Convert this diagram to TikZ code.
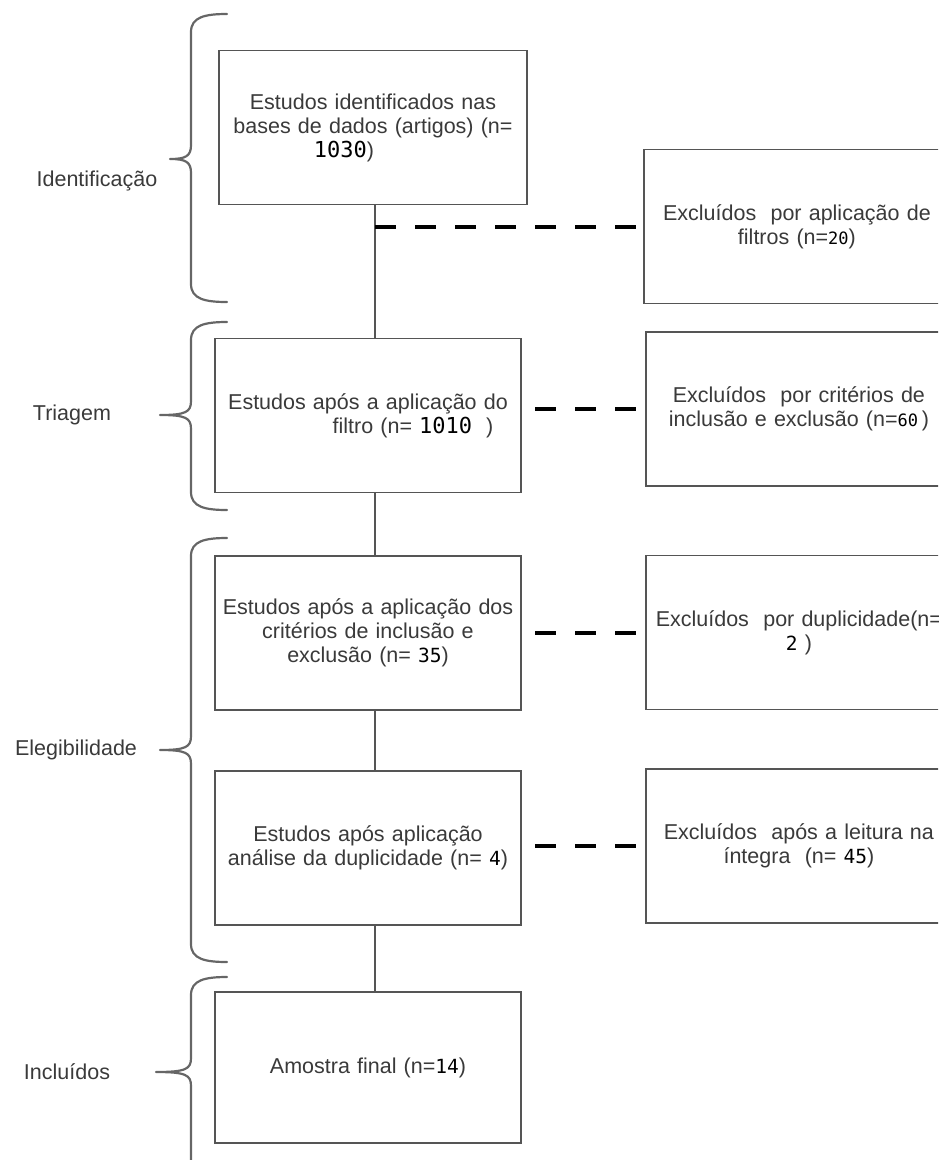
\documentclass[tikz,border=0pt]{standalone}
\usepackage{fontspec}
\setmainfont{Liberation Sans}
\newfontfamily\numfont{DejaVu Sans Mono}
\usetikzlibrary{backgrounds}
\definecolor{txt}{HTML}{3A3A3A}
\definecolor{frm}{HTML}{555555}
\definecolor{brc}{HTML}{666666}
\newcommand{\nm}[2][19.5]{{\fontsize{#1}{24}\numfont\color{black}#2}}
\newcommand{\pbrace}[4]{%
  \draw[bracestyle] (227,#1) .. controls (205,#1) and (191,{#1+3}) .. (191,{#1+18})
    -- (191,{#2-14}) .. controls (191,{#2-3}) and (186,#2) .. (#4,#2)
    (#4,#2) .. controls (186,#2) and (191,{#2+3}) .. (191,{#2+14})
    -- (191,{#3-18}) .. controls (191,{#3-3}) and (205,#3) .. (227,#3);}
\begin{document}
\begin{tikzpicture}[x=1pt,y=-1pt,
  box/.style={draw=frm,line width=1.8pt,fill=white,inner sep=0pt,
    minimum width=306pt,minimum height=154pt,text width=302pt,align=center,
    text=txt,font=\fontsize{21.5}{24}\selectfont},
  rbox/.style={box,text width=290pt},
  lab/.style={text=txt,font=\fontsize{21.5}{24}\selectfont,inner sep=0pt},
  bracestyle/.style={draw=brc,line width=2.2pt,line cap=round},
  spineline/.style={draw=frm,line width=1.8pt},
  dashline/.style={draw=black,line width=4pt,dash pattern=on 21pt off 19pt}]
\useasboundingbox (0,0) rectangle (938,1160);
\clip (0,0) rectangle (938,1160);
\coordinate (spine) at (375,0);
% left boxes
\node[box,minimum width=308pt] (b1) at (373,127.5) {Estudos identificados nas\\ bases de dados (artigos) (n=\\ \hspace*{-58pt}\nm[22]{1030})};
\node[box] (b2) at (368,415.5) {Estudos após a aplicação do\\ \hspace*{90pt}filtro (n= \nm[22]{1010}\hspace{14pt})};
\node[box] (b3) at (368,633) {Estudos após a aplicação dos\\ critérios de inclusão e\\ exclusão (n= \nm{35})};
\node[box] (b4) at (368,848) {Estudos após aplicação\\ análise da duplicidade (n= \nm{4})};
\node[box,minimum height=151pt] (b5) at (368,1067.5) {Amostra final (n=\nm{14})};
% right boxes
\node[rbox,anchor=west] (r1) at (643,226.5) {Excluídos\ \ por aplicação de\\ filtros (n=\nm[17]{20})};
\node[rbox,anchor=west] (r2) at (645,409) {Excluídos\ \ por critérios de\\ inclusão e exclusão (n=\nm[17]{60}\,)};
\node[rbox,anchor=west] (r3) at (645,632.5) {Excluídos\ \ por duplicidade(n=\\ \nm{2}\ )};
\node[rbox,anchor=west] (r4) at (645,846) {Excluídos\ \ após a leitura na\\ íntegra\ \ (n= \nm{45})};
% labels
\node[lab] (l1) at (97,181) {Identificação};
\node[lab] (l2) at (72,415) {Triagem};
\node[lab] (l3) at (76,750) {Elegibilidade};
\node[lab] (l4) at (67,1072) {Incluídos};
% braces
\pbrace{14}{159}{302}{170}
\pbrace{322}{415}{510}{160}
\pbrace{538}{750}{962}{160}
\pbrace{977}{1072}{1185}{156}
% connectors
\begin{pgfonlayer}{background}
\draw[spineline] (b1.south -| spine) -- (b2.north -| spine);
\draw[spineline] (b2.south -| spine) -- (b3.north -| spine);
\draw[spineline] (b3.south -| spine) -- (b4.north -| spine);
\draw[spineline] (b4.south -| spine) -- (b5.north -| spine);
\draw[dashline] (spine |- r1.west) -- (r1.west);
\draw[dashline] (spine |- r2.west) -- (r2.west);
\draw[dashline] (spine |- r3.west) -- (r3.west);
\draw[dashline] (spine |- r4.west) -- (r4.west);
\end{pgfonlayer}
\end{tikzpicture}
\end{document}
